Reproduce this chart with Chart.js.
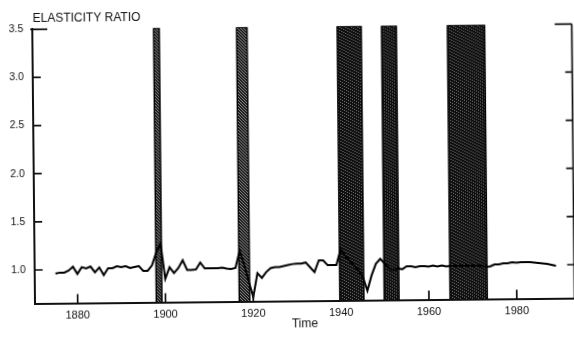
<!DOCTYPE html>
<html><head><meta charset="utf-8">
<script src="https://cdn.jsdelivr.net/npm/chart.js@4/dist/chart.umd.min.js"></script>
<style>
html,body{margin:0;padding:0;background:#fff;overflow:hidden;width:574px;height:337px}
#wrap{position:absolute;left:0;top:0;width:580px;height:340px;transform-origin:35px 303.5px;transform:rotate(-0.57deg)}
canvas{display:block}
</style></head><body>
<div id="wrap"><canvas id="c" width="580" height="340"></canvas></div>
<script>
// ---- data ----
const years = [
  1875,1876,1877,1878,1879,
  1880,1881,1882,1883,1884,1885,1886,1887,1888,1889,
  1890,1891,1892,1893,1894,1895,1896,1897,1898,1899,
  1900,1901,1902,1903,1904,1905,1906,1907,1908,1909,
  1910,1911,1912,1913,1914,1915,1916,1917,1918,1919,
  1920,1921,1922,1923,1924,1925,1926,1927,1928,1929,
  1930,1931,1932,1933,1934,1935,1936,1937,1938,1939,
  1940,1941,1942,1943,1944,1945,1946,1947,1948,1949,
  1950,1951,1952,1953,1954,1955,1956,1957,1958,1959,
  1960,1961,1962,1963,1964,1965,1966,1967,1968,1969,
  1970,1971,1972,1973,1974,1975,1976,1977,1978,1979,
  1980,1981,1982,1983,1984,1985,1986,1987,1988,1989
];
const ratio = [
  0.96,0.97,0.97,0.99,1.03,
  0.955,1.025,1.01,1.03,0.97,1.02,0.94,1.01,1.01,1.03,
  1.02,1.03,1.01,1.02,1.03,0.98,0.98,1.035,1.17,1.26,
  0.895,1.015,0.955,1.005,1.085,0.985,0.985,0.99,1.06,1.0,
  1.0,1.0,1.0,1.005,0.995,0.99,1.0,1.18,1.03,0.86,
  0.695,0.945,0.895,0.955,0.995,1.005,1.005,1.015,1.025,1.035,
  1.04,1.04,1.05,1.0,0.95,1.07,1.07,1.02,1.02,1.02,
  1.185,1.115,1.065,1.015,0.965,0.895,0.75,0.91,1.03,1.08,
  1.03,0.98,0.96,0.98,0.97,1.0,1.0,0.99,1.0,1.0,
  0.995,1.005,0.995,1.005,0.995,1.0,1.0,1.0,1.0,1.0,
  1.0,1.0,1.0,0.985,0.99,1.01,1.01,1.02,1.02,1.03,
  1.025,1.03,1.03,1.03,1.025,1.02,1.015,1.01,1.0,0.99
];
const warStart = [1897.9, 1916.8, 1939.7, 1949.8, 1964.8];
const warEnd   = [1899.2, 1919.2, 1945.2, 1953.2, 1973.3];
const yTicks = [1.0, 1.5, 2.0, 2.5, 3.0, 3.5];
const xTicks = [1880, 1900, 1920, 1940, 1960, 1980];
const yTitle = 'ELASTICITY RATIO';
const xTitle = 'Time';
const Y_MIN = 0.652, Y_MAX = 3.5;
const X_MIN = 1870.28, X_MAX = 1993.14;

// ---- styling ----
const FAMILY = "'Liberation Sans', Arial, Helvetica, sans-serif";
Chart.defaults.font.family = FAMILY;
Chart.defaults.color = '#111';

function makePattern(lightTest, base, light) {
  const c = document.createElement('canvas');
  c.width = 6; c.height = 6;
  const g = c.getContext('2d');
  g.fillStyle = base; g.fillRect(0, 0, 6, 6);
  g.fillStyle = light;
  for (let px = 0; px < 6; px++) for (let py = 0; py < 6; py++) {
    if (lightTest(px, py)) g.fillRect(px, py, 1, 1);
  }
  return g.createPattern(c, 'repeat');
}
const ctx = document.getElementById('c').getContext('2d');
const lightPat = makePattern((a, b) => (a + 2 * b) % 3 === 0, '#1a1a1a', '#8a8a8a');
const darkPat = makePattern((a, b) => (a + 4 * b) % 6 === 0, '#0e0e0e', '#7a7a7a');

const bandSets = warStart.map((s, i) => ({
  type: 'line',
  data: [{x: s, y: Y_MIN}, {x: s, y: Y_MAX}, {x: warEnd[i], y: Y_MAX}, {x: warEnd[i], y: Y_MIN}],
  fill: 'start',
  backgroundColor: i < 2 ? lightPat : darkPat,
  borderColor: '#000',
  borderWidth: 1.4,
  pointRadius: 0,
  tension: 0,
  order: 2
}));

const axisMarks = {
  id: 'axisMarks',
  afterDatasetsDraw(chart) {
    const {ctx, chartArea: a, scales: {x, y}} = chart;
    ctx.save();
    ctx.strokeStyle = '#111';
    ctx.lineWidth = 1.7;
    ctx.beginPath();
    yTicks.forEach(v => {
      const py = y.getPixelForValue(v);
      const top = v === Y_MAX;
      ctx.moveTo(a.left - (top ? 2 : 0), py); ctx.lineTo(a.left + (top ? 15 : 8), py);
      ctx.moveTo(a.right - (top ? 17 : 7), py); ctx.lineTo(a.right, py);
    });
    xTicks.forEach(v => {
      const px = x.getPixelForValue(v);
      ctx.moveTo(px, a.bottom); ctx.lineTo(px, a.bottom - 9);
    });
    ctx.moveTo(a.right, y.getPixelForValue(Y_MAX)); ctx.lineTo(a.right, a.bottom);
    ctx.stroke();
    // axis title at top-left
    ctx.fillStyle = '#111';
    ctx.font = '12px ' + FAMILY;
    ctx.textAlign = 'left';
    ctx.textBaseline = 'alphabetic';
    ctx.fillText(yTitle, a.left + 0.5, 22.3);
    ctx.restore();
  }
};

new Chart(ctx, {
  type: 'line',
  data: {
    datasets: [
      {
        data: years.map((yr, i) => ({x: yr, y: ratio[i]})),
        borderColor: '#000',
        borderWidth: 2,
        pointRadius: 0,
        tension: 0,
        fill: false,
        order: 1
      },
      ...bandSets
    ]
  },
  options: {
    responsive: false,
    animation: false,
    events: [],
    layout: {padding: {left: 0, right: 5.5, top: 29.3, bottom: 0}},
    plugins: {
      legend: {display: false},
      tooltip: {enabled: false},
      title: {display: false}
    },
    scales: {
      x: {
        type: 'linear', position: 'bottom', min: X_MIN, max: X_MAX,
        afterBuildTicks: s => { s.ticks = xTicks.map(v => ({value: v})); },
        afterFit: s => { s.height = 36.5; },
        ticks: {callback: v => String(v), font: {size: 11}, color: '#111', padding: 6, maxRotation: 0, autoSkip: false},
        grid: {display: false, drawTicks: false},
        border: {display: true, color: '#111', width: 2},
        title: {display: true, text: xTitle, color: '#111', font: {size: 12}, padding: {top: 0, bottom: 6.5}}
      },
      y: {
        type: 'linear', position: 'left', min: Y_MIN, max: Y_MAX,
        afterBuildTicks: s => { s.ticks = yTicks.map(v => ({value: v})); },
        afterFit: s => { s.width = 35; },
        ticks: {callback: v => v.toFixed(1), font: {size: 10.5}, color: '#111', padding: 9},
        grid: {display: false, drawTicks: false},
        border: {display: true, color: '#111', width: 2}
      }
    }
  },
  plugins: [axisMarks]
});
</script>
</body></html>
